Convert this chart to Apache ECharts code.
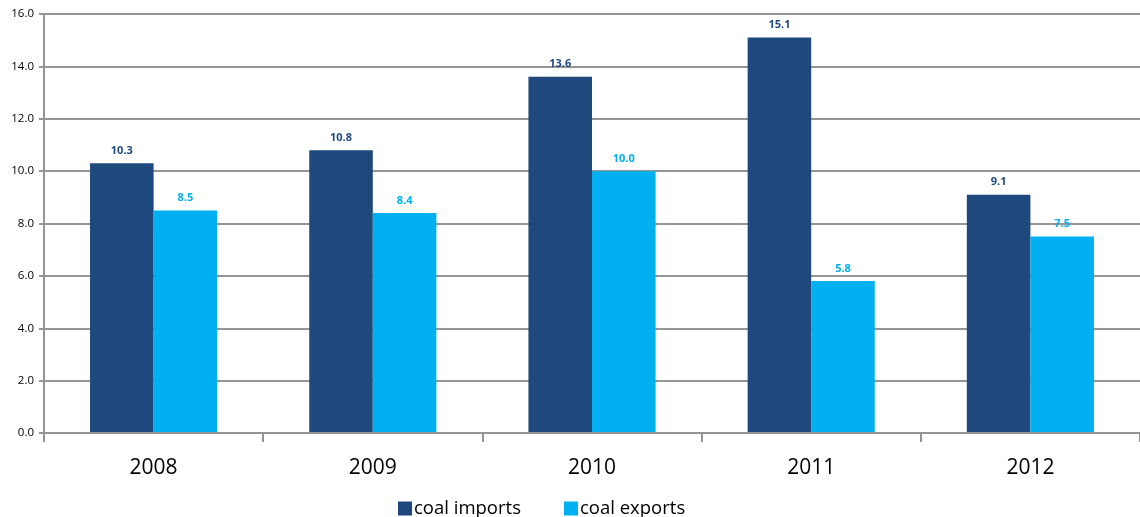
<!DOCTYPE html>
<html>
<head>
<meta charset="utf-8">
<script src="https://cdn.jsdelivr.net/npm/echarts@6/dist/echarts.min.js"></script>
<style>
  html, body { margin: 0; padding: 0; background: #fff; }
  #chart { width: 1140px; height: 517px; }
</style>
</head>
<body>
<div id="chart"></div>
<script>
// Coal trade by year
const years = ['2008', '2009', '2010', '2011', '2012'];
const coalImports = [10.3, 10.8, 13.6, 15.1, 9.1];
const coalExports = [8.5, 8.4, 10.0, 5.8, 7.5];
const yTicks = { min: 0, max: 16, interval: 2 };

const importColor = '#1F497D';
const exportColor = '#00B0F0';
const gridColor = '#959595';
const fontFamily = '"Open Sans", "Noto Sans", sans-serif';

const chart = echarts.init(document.getElementById('chart'), null, { renderer: 'canvas' });

function barLabel(color) {
  return {
    show: true,
    position: 'top',
    distance: 7,
    color: color,
    fontFamily: fontFamily,
    fontSize: 11,
    fontWeight: 'bold',
    formatter: p => p.value.toFixed(1)
  };
}

chart.setOption({
  animation: false,
  textStyle: { fontFamily: fontFamily },
  grid: { left: 44, right: 0, top: 14, bottom: 84, containLabel: false },
  legend: {
    top: 494,
    left: 393,
    itemWidth: 14,
    itemHeight: 14,
    itemGap: 43,
    icon: 'rect',
    textStyle: { fontSize: 18.5, color: '#000', fontFamily: fontFamily, padding: [0, 0, 0, -3] },
    data: ['coal imports', 'coal exports']
  },
  xAxis: {
    type: 'category',
    data: years,
    z: 5,
    axisLine: { lineStyle: { color: gridColor, width: 2 } },
    axisTick: { show: true, length: 9, lineStyle: { color: gridColor, width: 2 } },
    axisLabel: { fontSize: 21, color: '#000', margin: 25, fontFamily: fontFamily }
  },
  yAxis: {
    type: 'value',
    min: yTicks.min,
    max: yTicks.max,
    interval: yTicks.interval,
    axisLine: { show: true, lineStyle: { color: gridColor, width: 2 } },
    axisTick: { show: true, length: 5, lineStyle: { color: gridColor, width: 2 } },
    splitLine: { lineStyle: { color: gridColor, width: 2 } },
    axisLabel: {
      fontSize: 11.5,
      color: '#000',
      margin: 10,
      fontFamily: fontFamily,
      formatter: v => v.toFixed(1)
    }
  },
  series: [
    {
      name: 'coal imports',
      type: 'bar',
      data: coalImports,
      barGap: '0%',
      barCategoryGap: '42%',
      itemStyle: { color: importColor },
      label: barLabel(importColor)
    },
    {
      name: 'coal exports',
      type: 'bar',
      data: coalExports,
      barGap: '0%',
      barCategoryGap: '42%',
      itemStyle: { color: exportColor },
      label: barLabel(exportColor)
    }
  ]
});
</script>
</body>
</html>
